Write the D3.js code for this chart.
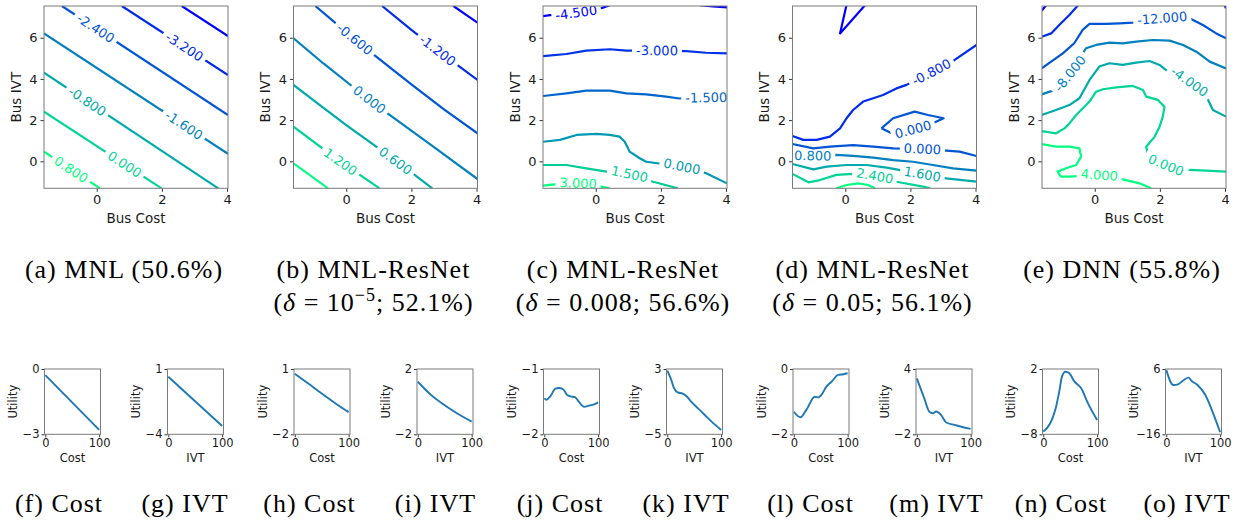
<!DOCTYPE html>
<html><head><meta charset="utf-8">
<script src="https://cdn.jsdelivr.net/npm/d3@7"></script>
<style>
body{margin:0;background:#fff;}
svg{display:block;}
text{font-family:"DejaVu Sans",sans-serif;fill:#1a1a1a;}
.cap{font-family:"Liberation Serif",serif;font-size:26px;letter-spacing:1px;fill:#000;}
</style></head><body>
<script>
// ---------------- DATA ----------------
const contourXDomain = [-1.62, 4.03];
const contourYDomain = [-1.31, 7.54];
const contourXTicks = [0, 2, 4];
const contourYTicks = [0, 2, 4, 6];

// (a) MNL
const aLevels = [-4.0, -3.2, -2.4, -1.6, -0.8, 0.0, 0.8];
const aLines = [
  [-4.0, [[2.61,7.54],[4.03,6.08]]],
  [-3.2, [[0.77,7.54],[4.03,4.19]]],
  [-2.4, [[-1.07,7.54],[4.03,2.25]]],
  [-1.6, [[-1.62,6.21],[4.03,0.36]]],
  [-0.8, [[-1.62,4.30],[3.73,-1.31]]],
  [0.0,  [[-1.62,2.41],[1.99,-1.31]]],
  [0.8,  [[-1.62,0.47],[0.10,-1.31]]]
];
const aLabels = [[2,0.0,6.54],[1,2.66,5.49],[3,2.71,1.84],[4,-0.26,2.98],[5,0.87,-0.1],[6,-0.77,-0.35]];

// (b) MNL-ResNet delta=1e-5
const bLevels = [-1.8, -1.2, -0.6, 0.0, 0.6, 1.2, 1.8];
const bLines = [
  [-1.8, [[3.29,7.54],[4.03,6.73]]],
  [-1.2, [[1.10,7.54],[2.0,6.38],[3.0,5.15],[4.03,3.95]]],
  [-0.6, [[-0.95,7.54],[0.0,6.27],[0.92,5.08],[2.0,3.74],[3.0,2.52],[4.03,1.36]]],
  [0.0,  [[-1.62,5.97],[-0.7,4.75],[0.2,3.62],[1.33,2.25],[2.6,0.8],[4.03,-0.86]]],
  [0.6,  [[-1.62,3.71],[-0.8,2.72],[0.0,1.76],[0.92,0.71],[1.8,-0.3],[2.64,-1.31]]],
  [1.2,  [[-1.62,1.68],[-0.3,0.12],[1.02,-1.31]]],
  [1.8,  [[-1.62,-0.10],[-0.56,-1.31]]]
];
const bLabels = [[2,0.31,6.02],[1,2.81,5.40],[3,0.72,3.01],[4,1.53,0.06],[5,-0.10,0.15]];

// (c) MNL-ResNet delta=0.008
const cLevels = [-4.5, -3.0, -1.5, 0.0, 1.5, 3.0];
const cLines = [
  [-4.5, [[-1.62,7.05],[-1.4,7.10],[-0.6,7.22],[0.2,7.45],[0.5,7.62]]],
  [-4.5, [[3.2,7.58],[3.6,7.52],[4.03,7.47]]],
  [-3.0, [[-1.62,5.11],[-0.9,5.21],[-0.29,5.37],[0.43,5.44],[0.94,5.37],[1.88,5.38],[2.78,5.35],[3.39,5.27],[4.03,5.24]]],
  [-1.5, [[-1.62,3.17],[-0.9,3.30],[-0.29,3.43],[0.43,3.43],[0.94,3.30],[1.55,3.25],[2.16,3.14],[2.57,3.05],[3.3,3.1],[4.2,3.1]]],
  [0.0,  [[-1.62,0.95],[-1.1,1.04],[-0.59,1.28],[0.02,1.33],[0.43,1.28],[0.73,1.2],[0.89,0.95],[1.04,0.47],[1.35,0.15],[1.55,-0.02],[2.06,-0.13],[2.65,-0.25],[3.39,-0.58],[4.03,-1.07]]],
  [1.5,  [[-1.62,-0.18],[-0.9,-0.18],[-0.29,-0.34],[0.33,-0.50],[1.04,-0.62],[1.76,-0.99],[2.52,-1.31]]],
  [3.0,  [[-1.62,-1.18],[-1.26,-1.12],[-0.54,-1.06],[0.17,-1.23],[0.43,-1.31]]]
];
const cLabels = [[0,-0.6,7.22],[2,1.88,5.40],[3,3.39,3.1],[4,2.65,-0.23],[5,1.04,-0.6],[6,-0.54,-1.04]];

// (d) MNL-ResNet delta=0.05
const dLevels = [-1.6, -0.8, 0.0, 0.8, 1.6, 2.4, 3.2];
const dLines = [
  [-1.6, [[0.04,7.6],[-0.16,6.21],[0.62,7.6]]],
  [-0.8, [[-1.62,1.23],[-1.29,1.04],[-0.88,1.04],[-0.47,1.2],[-0.16,1.60],[0.04,2.09],[0.24,2.49],[0.55,2.90],[0.86,3.06],[1.16,3.22],[1.57,3.54],[1.88,3.71],[2.64,4.33],[3.36,4.92],[4.03,5.65]]],
  [0.0,  [[1.11,1.60],[1.47,2.09],[2.13,2.41],[2.54,2.25],[3.02,2.09],[2.67,1.84],[2.08,1.55],[1.47,1.33],[1.11,1.60]]],
  [0.0,  [[-1.62,0.84],[-0.98,0.63],[-0.47,0.71],[0.24,0.79],[0.86,0.71],[1.47,0.63],[2.37,0.60],[3.10,0.52],[3.51,0.47],[4.03,0.26]]],
  [0.8,  [[-1.62,0.34],[-1.0,0.28],[-0.27,0.31],[0.24,0.26],[0.86,0.18],[1.47,0.06],[2.08,-0.02],[2.69,-0.18],[3.31,-0.34],[4.03,-0.45]]],
  [1.6,  [[-1.62,-0.13],[-0.98,-0.39],[-0.57,-0.26],[0.04,-0.18],[0.65,-0.18],[1.27,-0.31],[2.37,-0.62],[3.10,-0.83],[4.03,-0.99]]],
  [2.4,  [[-1.62,-0.61],[-1.13,-1.02],[-0.78,-0.91],[-0.27,-0.66],[0.24,-0.61],[0.91,-0.70],[1.57,-0.99],[2.39,-1.23],[2.6,-1.31]]],
  [3.2,  [[-0.27,-1.31],[0.04,-1.15],[0.40,-1.07],[0.70,-1.15],[0.91,-1.31]]]
];
const dLabels = [[1,2.64,4.35],[2,2.08,1.55],[3,2.37,0.63],[4,-1.0,0.26],[5,2.37,-0.61],[6,0.91,-0.65]];

// (e) DNN
const eLevels = [-20, -16, -12, -8, -4, 0, 4];
const eLines = [
  [-20, [[-1.63,7.31],[-1.50,7.56]]],
  [-20, [[3.99,7.56],[4.03,7.43]]],
  [-16, [[-1.63,6.05],[-1.34,6.21],[-1.09,6.62],[-0.78,7.10],[-0.52,7.56]]],
  [-12, [[-1.63,4.51],[-1.34,4.84],[-0.98,5.24],[-0.63,5.73],[-0.37,6.38],[-0.16,6.67],[0.35,6.67],[0.76,6.70],[1.17,6.73],[2.07,6.95],[2.91,6.94],[3.32,6.62],[3.73,6.21],[4.03,5.97]]],
  [-8,  [[-1.63,3.25],[-1.29,3.43],[-0.76,4.27],[-0.27,5.49],[0.04,5.65],[0.45,5.76],[0.86,5.73],[1.27,5.81],[1.78,5.89],[2.30,5.86],[2.71,5.65],[3.12,5.32],[3.53,4.84],[4.03,4.51]]],
  [-4,  [[-1.63,2.25],[-1.19,2.49],[-0.78,2.73],[-0.47,3.06],[-0.16,3.95],[0.14,4.60],[0.45,4.76],[0.86,4.68],[1.27,4.79],[1.68,4.87],[1.99,4.68],[2.19,4.43],[2.91,3.87],[3.48,2.98],[3.63,2.49],[4.03,2.17]]],
  [0,   [[-1.63,1.47],[-1.19,1.36],[-0.93,1.60],[-0.78,1.84],[-0.57,2.25],[-0.16,2.90],[0.04,3.38],[0.25,3.50],[0.66,3.59],[1.17,3.66],[1.48,3.46],[1.58,3.14],[1.94,2.98],[2.14,2.65],[2.09,2.17],[1.99,1.68],[1.84,1.20],[1.58,0.71],[1.63,0.39],[2.19,-0.18],[2.91,-0.42],[3.43,-0.45],[4.03,-0.50]]],
  [4,   [[-1.63,0.84],[-1.19,0.71],[-0.78,0.71],[-0.47,0.63],[-0.42,0.23],[-0.57,-0.18],[-0.88,-0.34],[-1.14,-0.50],[-1.04,-0.74],[-0.78,-0.74],[0.14,-0.66],[0.96,-0.91],[1.37,-1.07],[1.73,-1.31]]]
];
const eLabels = [[3,2.07,6.94],[4,-0.76,4.27],[5,2.91,3.87],[6,2.19,-0.18],[7,0.14,-0.65]];

// small utility curves (x = Cost or IVT, 0..100)
const smallXLabels = ["Cost","IVT","Cost","IVT","Cost","IVT","Cost","IVT","Cost","IVT"];
const smallYLims = [[-3,0],[-4,1],[-2,1],[-2,2],[-2,-1],[-5,3],[-2,0],[-2,4],[-8,2],[-16,6]];
const fX = [0,100],               fY = [-0.28,-2.80];
const gX = [0,100],               gY = [0.41,-3.36];
const hX = [0,25,50,75,100],      hY = [0.78,0.33,-0.13,-0.57,-0.98];
const iX = [0,25,50,75,100],      iY = [1.22,0.40,-0.22,-0.76,-1.22];
const jX = [0,3.75,11,20.6,27,33,38,42.5,48.8,57,64,74,83,92.5,100];
const jY = [-1.45,-1.47,-1.42,-1.30,-1.29,-1.30,-1.34,-1.40,-1.42,-1.43,-1.50,-1.58,-1.56,-1.54,-1.51];
const kX = [0,6.3,12.7,19,28.5,34.8,44.3,57,69.6,82.3,100];
const kY = [2.80,1.86,0.63,0.14,-0.02,-0.27,-1.0,-1.82,-2.63,-3.45,-4.47];
const lX = [0,12.5,23,39,46,51,60.6,70,82.5,92,100];
const lY = [-1.31,-1.48,-1.26,-0.85,-0.87,-0.80,-0.54,-0.39,-0.18,-0.16,-0.13];
const mX = [0,13.8,23,29.6,35.8,45,54.7,70.4,86,100];
const mY = [3.14,1.31,0.09,-0.07,0.09,-0.22,-0.92,-1.14,-1.35,-1.50];
const nX = [0,7.5,17,23,29.6,34.6,40.9,48.4,57.9,70.4,83,100];
const nY = [-7.59,-6.98,-5.55,-4.02,-1.47,0.83,1.59,1.34,0.06,-0.96,-3.26,-5.81];
const oX = [0,13,21.7,32.6,41.3,47,58,72.5,87,100];
const oY = [5.66,0.61,0.84,2.30,3.08,1.96,0.61,-2.75,-8.92,-15.3];

const topCaptions = [
  ["(a) MNL (50.6%)"],
  ["(b) MNL-ResNet", ["10","−5","52.1%"]],
  ["(c) MNL-ResNet", ["0.008",null,"56.6%"]],
  ["(d) MNL-ResNet", ["0.05",null,"56.1%"]],
  ["(e) DNN (55.8%)"]
];
const bottomCaptions = ["(f) Cost","(g) IVT","(h) Cost","(i) IVT","(j) Cost","(k) IVT","(l) Cost","(m) IVT","(n) Cost","(o) IVT"];

// ---------------- DRAW ----------------
const W = 1239, H = 525;
const svg = d3.select("body").append("svg").attr("width", W).attr("height", H);
const defs = svg.append("defs");
const winter = t => `rgb(0,${Math.round(255*t)},${Math.round(255*(1-0.5*t))})`;
const SPINE = "#7a7a7a";
const CW = 184, CH = 182.3, CTOP = 6;

function chordAngle(pts, px, py) {
  const cum = [0];
  for (let i = 1; i < pts.length; i++) cum.push(cum[i-1] + Math.hypot(pts[i][0]-pts[i-1][0], pts[i][1]-pts[i-1][1]));
  let best = {d: Infinity};
  for (let i = 0; i < pts.length - 1; i++) {
    const [x1,y1] = pts[i], [x2,y2] = pts[i+1];
    const dx = x2-x1, dy = y2-y1, L = dx*dx+dy*dy;
    let t = L ? ((px-x1)*dx + (py-y1)*dy)/L : 0;
    t = Math.max(0, Math.min(1, t));
    const qx = x1+t*dx, qy = y1+t*dy, d = (qx-px)**2 + (qy-py)**2;
    if (d < best.d) best = {d, qx, qy, s: cum[i] + t*Math.sqrt(L)};
  }
  const at = s => {
    s = Math.max(0, Math.min(cum[cum.length-1], s));
    for (let i = 0; i < pts.length - 1; i++) {
      if (s <= cum[i+1] || i === pts.length - 2) {
        const seg = cum[i+1]-cum[i] || 1, t = (s-cum[i])/seg;
        return [pts[i][0] + t*(pts[i+1][0]-pts[i][0]), pts[i][1] + t*(pts[i+1][1]-pts[i][1])];
      }
    }
  };
  const p1 = at(best.s - 16), p2 = at(best.s + 16);
  let a = Math.atan2(p2[1]-p1[1], p2[0]-p1[0]) * 180 / Math.PI;
  if (a > 90) a -= 180;
  if (a < -90) a += 180;
  return {x: best.qx, y: best.qy, a};
}

const fmtLevel = v => (v < 0 ? "-" : "") + Math.abs(v).toFixed(3);

function contourPanel(i, levels, lines, labels) {
  const left = 44 + 249.5 * i;
  const g = svg.append("g").attr("transform", `translate(${left},${CTOP})`);
  const x = d3.scaleLinear().domain(contourXDomain).range([0, CW]);
  const y = d3.scaleLinear().domain(contourYDomain).range([CH, 0]);
  const lo = d3.min(levels), hi = d3.max(levels);
  const col = v => winter((v - lo) / (hi - lo));
  const clipId = `clip${i}`;
  defs.append("clipPath").attr("id", clipId).append("rect").attr("width", CW).attr("height", CH);
  const masks = lines.map((ln, j) => {
    const m = defs.append("mask").attr("id", `m${i}_${j}`).attr("maskUnits", "userSpaceOnUse")
      .attr("x", -60).attr("y", -60).attr("width", CW + 120).attr("height", CH + 120);
    m.append("rect").attr("x", -60).attr("y", -60).attr("width", CW + 120).attr("height", CH + 120).attr("fill", "#fff");
    return m;
  });
  const plot = g.append("g").attr("clip-path", `url(#${clipId})`);
  const line = d3.line().x(d => x(d[0])).y(d => y(d[1]));
  lines.forEach((ln, j) => {
    plot.append("path").attr("d", line(ln[1])).attr("fill", "none")
      .attr("stroke", col(ln[0])).attr("stroke-width", 2.2).attr("stroke-linejoin", "round")
      .attr("mask", `url(#m${i}_${j})`);
  });
  labels.forEach(([j, lx, ly]) => {
    const pts = lines[j][1].map(p => [x(p[0]), y(p[1])]);
    const r = chordAngle(pts, x(lx), y(ly));
    const t = plot.append("text").attr("transform", `translate(${r.x},${r.y}) rotate(${r.a})`)
      .attr("text-anchor", "middle").attr("dy", "0.36em").style("font-size", "13px")
      .style("fill", col(lines[j][0])).text(fmtLevel(lines[j][0]));
    const w = t.node().getComputedTextLength();
    masks[j].append("rect").attr("transform", `translate(${r.x},${r.y}) rotate(${r.a})`)
      .attr("x", -w/2 - 4).attr("y", -7).attr("width", w + 8).attr("height", 14).attr("fill", "#000");
  });
  const ax = g.append("g").attr("transform", `translate(0,${CH})`)
    .call(d3.axisBottom(x).tickValues(contourXTicks).tickFormat(d3.format("d")).tickSize(3.5).tickPadding(2.5));
  const ay = g.append("g").call(d3.axisLeft(y).tickValues(contourYTicks).tickFormat(d3.format("d")).tickSize(3.5).tickPadding(3));
  [ax, ay].forEach(a => {
    a.select(".domain").remove();
    a.selectAll("line").attr("stroke", "#333");
    a.selectAll("text").style("font-size", "13px").style("font-family", "DejaVu Sans").attr("fill", "#1a1a1a");
  });
  g.append("rect").attr("width", CW).attr("height", CH).attr("fill", "none").attr("stroke", SPINE).attr("stroke-width", 1);
  g.append("text").attr("x", CW/2).attr("y", CH + 35).attr("text-anchor", "middle").style("font-size", "13.5px").text("Bus Cost");
  g.append("text").attr("transform", `translate(-28,${CH/2}) rotate(-90)`).attr("dy", "0.35em").attr("text-anchor", "middle").style("font-size", "13.5px").text("Bus IVT");
}

contourPanel(0, aLevels, aLines, aLabels);
contourPanel(1, bLevels, bLines, bLabels);
contourPanel(2, cLevels, cLines, cLabels);
contourPanel(3, dLevels, dLines, dLabels);
contourPanel(4, eLevels, eLines, eLabels);

// small panels
const SW = 56, SH = 65.3, STOP = 369;
const smallXs = [fX, gX, hX, iX, jX, kX, lX, mX, nX, oX];
const smallYs = [fY, gY, hY, iY, jY, kY, lY, mY, nY, oY];
smallXs.forEach((xs, idx) => {
  const p = Math.floor(idx / 2), k = idx % 2;
  const left = 44.5 + 249.5 * p + 123 * k;
  const g = svg.append("g").attr("transform", `translate(${left},${STOP})`);
  const x = d3.scaleLinear().domain([-1.5, 102.5]).range([0, SW]);
  const y = d3.scaleLinear().domain(smallYLims[idx]).range([SH, 0]);
  g.append("path").datum(d3.zip(xs, smallYs[idx]))
    .attr("d", d3.line().curve(d3.curveMonotoneX).x(d => x(d[0])).y(d => y(d[1])))
    .attr("fill", "none").attr("stroke", "#1f77b4").attr("stroke-width", 1.9).attr("stroke-linejoin", "round");
  const ax = g.append("g").attr("transform", `translate(0,${SH})`)
    .call(d3.axisBottom(x).tickValues([0, 100]).tickSize(3).tickPadding(2));
  const ay = g.append("g").call(d3.axisLeft(y).tickValues(smallYLims[idx]).tickFormat(d3.format("d")).tickSize(3).tickPadding(2));
  [ax, ay].forEach(a => {
    a.select(".domain").remove();
    a.selectAll("line").attr("stroke", "#333");
    a.selectAll("text").style("font-size", "11.5px").style("font-family", "DejaVu Sans").attr("fill", "#1a1a1a");
  });
  g.append("rect").attr("width", SW).attr("height", SH).attr("fill", "none").attr("stroke", SPINE).attr("stroke-width", 1);
  g.append("text").attr("x", SW/2).attr("y", SH + 27.5).attr("text-anchor", "middle").style("font-size", "11.5px").text(smallXLabels[idx]);
  g.append("text").attr("transform", `translate(-31.5,${SH/2}) rotate(-90)`).attr("dy", "0.35em").attr("text-anchor", "middle").style("font-size", "11.5px").text("Utility");
});

// captions
topCaptions.forEach((c, i) => {
  const cx = 124 + 249.5 * i;
  svg.append("text").attr("class", "cap").attr("x", cx).attr("y", 278).attr("text-anchor", "middle").text(c[0]);
  if (c[1]) {
    const t = svg.append("text").attr("class", "cap").attr("x", cx).attr("y", 311).attr("text-anchor", "middle");
    t.append("tspan").text("(");
    t.append("tspan").style("font-style", "italic").text("δ");
    t.append("tspan").text(" = " + c[1][0]);
    if (c[1][1]) {
      t.append("tspan").attr("dy", -10).style("font-size", "18px").text(c[1][1]);
      t.append("tspan").attr("dy", 10).text("; " + c[1][2] + ")");
    } else {
      t.append("tspan").text("; " + c[1][2] + ")");
    }
  }
});
bottomCaptions.forEach((c, idx) => {
  const p = Math.floor(idx / 2), k = idx % 2;
  const cx = 59 + 250.5 * p + 126 * k;
  svg.append("text").attr("class", "cap").attr("x", cx).attr("y", 512).attr("text-anchor", "middle").text(c);
});
</script>
</body></html>
